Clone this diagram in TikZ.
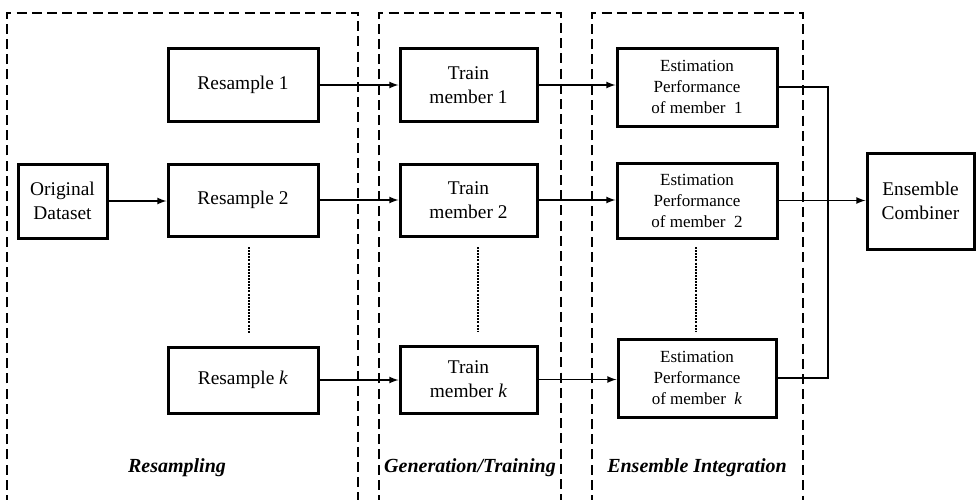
\documentclass[tikz,border=0pt]{standalone}
\usepackage{fontspec}
\setmainfont{Liberation Serif}

\begin{document}
\begin{tikzpicture}[x=0.5pt,y=-0.5pt,
        blk/.style={draw,line width=1.5pt,align=center,inner sep=0pt,font=\fontsize{9.7}{12}\selectfont},
        estblk/.style={blk,font=\fontsize{8.5}{10.5}\selectfont},
        lbl/.style={font=\fontsize{10}{12}\selectfont\bfseries\itshape},
        frame/.style={line width=0.7pt,dash pattern=on 5pt off 2.6pt},
        dotline/.style={line width=1pt,dash pattern=on 1pt off 0.55pt},
        link/.style={line width=0.6pt}]
        \useasboundingbox (0,0) rectangle (976,499);
        % stage frames
        \draw[frame] (7,505) |- (358,13) -- (358,505);
        \draw[frame] (379,505) |- (561,13) -- (561,505);
        \draw[frame] (592,505) |- (803,13) -- (803,505);
        % blocks
        \node[blk,minimum width=44.5pt,minimum height=37pt] (orig) at (62.5,201) {Original\\Dataset};
        \node[blk,minimum width=75pt,minimum height=36.5pt] (res1) at (243,85) {Resample 1};
        \node[blk,minimum width=75pt,minimum height=36pt] (res2) at (243,200) {Resample 2};
        \node[blk,minimum width=75pt,minimum height=33pt] (resk) at (243,380) {Resample \textit{k}};
        \node[blk,minimum width=68.5pt,minimum height=36.5pt] (tr1) at (468.5,85) {Train\\member 1};
        \node[blk,minimum width=68.5pt,minimum height=36pt] (tr2) at (468.5,200) {Train\\member 2};
        \node[blk,minimum width=68.5pt,minimum height=33.5pt] (trk) at (468.5,379.5) {Train\\member \textit{k}};
        \node[estblk,minimum width=80pt,minimum height=39pt] (est1) at (697,87) {Estimation\\Performance\\of member\ \ 1};
        \node[estblk,minimum width=80pt,minimum height=37.5pt] (est2) at (697,200.5) {Estimation\\Performance\\of member\ \ 2};
        \node[estblk,minimum width=79pt,minimum height=39pt] (estk) at (697,378) {Estimation\\Performance\\of member\ \ \textit{k}};
        \node[blk,minimum width=53.5pt,minimum height=48pt] (comb) at (920.5,201) {Ensemble\\Combiner};
        % connectors
        \draw[link,-latex] (orig.east) -- (orig.east -| res2.west);
        \draw[link,-latex] (res1.east) -- (tr1.west);
        \draw[link,-latex] (res2.east) -- (tr2.west);
        \draw[link,-latex] (resk.east) -- (resk.east -| trk.west);
        \draw[link,-latex] (tr1.east) -- (tr1.east -| est1.west);
        \draw[link,-latex] (tr2.east) -- (tr2.east -| est2.west);
        \draw[link,-latex] (trk.east) -- (trk.east -| estk.west);
        \coordinate (bus) at (828,87);
        \draw[link] (est1.east) -- (est1.east -| bus) |- (estk.east);
        \draw[link,-latex] (est2.east) -- (est2.east -| comb.west);
        % omitted members
        \draw[dotline] (249,247) -- (249,333);
        \draw[dotline] (478,247) -- (478,332);
        \draw[dotline] (696,247) -- (696,332);
        % stage names
        \node[lbl] (lres) at (177,468) {Resampling};
        \node[lbl] (lgen) at (470,468) {Generation/Training};
        \node[lbl] (lens) at (697,468) {Ensemble Integration};
\end{tikzpicture}
\end{document}
